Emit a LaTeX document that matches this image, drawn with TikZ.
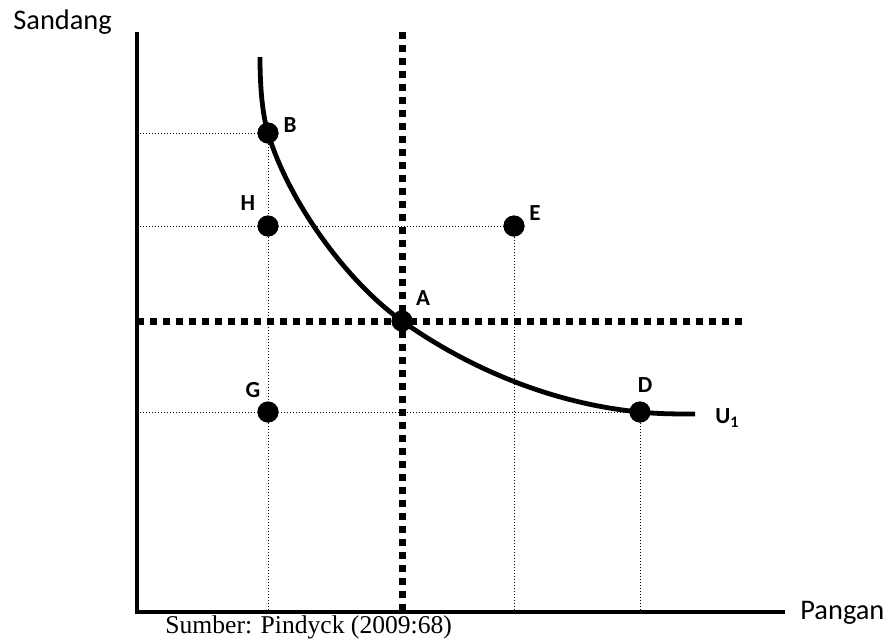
\documentclass[tikz,border=0pt]{standalone}
\usepackage{fontspec}
\setmainfont{Carlito}
\newfontfamily\srcfont{Liberation Serif}
\usetikzlibrary{positioning}

\begin{document}
\begin{tikzpicture}[x=0.5pt,y=-0.5pt,
  dot/.style={circle,fill=black,inner sep=0pt,minimum size=10.5pt},
  lbl/.style={inner sep=0pt,font=\fontsize{11.5}{13}\selectfont\bfseries},
  axlbl/.style={inner sep=0pt,font=\fontsize{14.2}{17}\selectfont},
  guide/.style={line width=0.5pt,dash pattern=on 0.5pt off 1pt},
  bigdots/.style={line width=3.5pt,dash pattern=on 3.5pt off 3pt},
  axisline/.style={line width=1.6pt}]
\useasboundingbox (0,0) rectangle (891,639);
% axes
\coordinate (o) at (137,612);
\coordinate (ytop) at (137,32);
\coordinate (xend) at (785,612);
\coordinate (hend) at (745,321);
\node[axlbl,anchor=base west] (ylab) at (13,29) {Sandang};
\node[axlbl,anchor=base west] (xlab) at (800,619) {Pangan};
% points
\node[dot] (B) at (268,133) {};
\node[dot] (H) at (268,226) {};
\node[dot] (E) at (514,226) {};
\node[dot] (A) at (402,321) {};
\node[dot] (G) at (268,412) {};
\node[dot] (D) at (640,412) {};
\node[lbl] (lB) at (290,125) {B};
\node[lbl] (lH) at (248,203) {H};
\node[lbl] (lE) at (535,213) {E};
\node[lbl] (lA) at (423,298) {A};
\node[lbl] (lG) at (253,390) {G};
\node[lbl] (lD) at (645,385) {D};
% guide lines
\draw[guide] (B -| o) -- (B) -- (B |- o);
\draw[guide] (H -| o) -- (E) -- (E |- o);
\draw[guide] (G -| o) -- (D) -- (D |- o);
\draw[bigdots] (A |- ytop) -- (A |- o);
\draw[bigdots] (A -| o) -- (A -| hend);
% indifference curve
\draw[line width=2.4pt] (260,57) .. controls (260,85) and (262,113) .. (B.center)
  .. controls (288,200) and (345,280) .. (A.center)
  .. controls (471,370) and (555,404) .. (D.center)
  .. controls (658,414) and (678,414) .. (695,414) coordinate (uend);
\node[lbl,right=10pt of uend,yshift=-2pt] (lU) {U\textsubscript{1}};
\draw[axisline] (ytop) -- (o) -- (xend);
% dots on top
\foreach \p in {B,H,E,A,G,D} \fill (\p) circle (5.25pt);
\node[anchor=base west,inner sep=0pt,font=\srcfont\fontsize{12.8}{15}\selectfont] (src) at (165,633) {Sumber: Pindyck (2009:68)};
\end{tikzpicture}
\end{document}
